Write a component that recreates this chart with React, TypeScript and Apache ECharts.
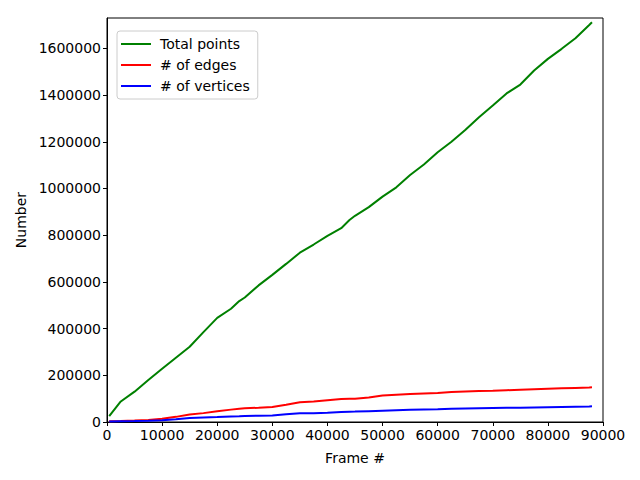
import React, { useEffect, useRef } from "react";
import * as echarts from "echarts";

const frames = [400, 2500, 5000, 7500, 10000, 12500, 15000, 17500, 20000, 22500, 24000, 25000, 27500, 30000, 32500, 35000, 37500, 40000, 42500, 44000, 45000, 47500, 50000, 52500, 55000, 57500, 60000, 62500, 65000, 67500, 70000, 72500, 75000, 77500, 80000, 82500, 85000, 87500, 88000];

const totalPoints = [25000, 88000, 130000, 180000, 228000, 275000, 322000, 385000, 446000, 485000, 518000, 533000, 585000, 630000, 677000, 725000, 760000, 797000, 830000, 865000, 883000, 920000, 965000, 1005000, 1058000, 1103000, 1155000, 1200000, 1250000, 1305000, 1355000, 1407000, 1445000, 1505000, 1555000, 1598000, 1643000, 1700000, 1712000];

const edges = [3000, 4000, 6000, 9000, 14000, 22000, 32000, 38000, 46000, 53000, 57000, 59000, 61000, 64000, 74000, 85000, 88000, 93000, 98000, 99500, 100000, 105000, 113000, 117000, 120000, 122000, 124000, 128000, 131000, 133000, 134000, 136000, 138000, 140000, 142000, 144000, 146000, 148000, 149000];

const vertices = [2000, 3000, 4000, 5500, 8000, 12000, 17000, 19000, 21000, 24000, 25000, 26000, 27000, 28000, 33000, 37000, 38000, 40000, 43000, 44000, 44500, 46500, 48500, 50500, 52500, 54000, 55000, 56500, 57500, 58500, 59500, 60500, 61500, 62500, 63500, 64500, 65500, 66500, 67000];

const seriesNames = ["Total points", "# of edges", "# of vertices"];
const seriesColors = ["#008000", "#ff0000", "#0000ff"];
const seriesValues = [totalPoints, edges, vertices];

const FONT = "DejaVu Sans";
const FS = 14;

export default function App() {
  const ref = useRef<HTMLDivElement>(null);
  useEffect(() => {
    if (!ref.current) return;
    const chart = echarts.init(ref.current, null, { renderer: "svg" });
    chart.setOption({
      animation: false,
      backgroundColor: "#ffffff",
      textStyle: { fontFamily: FONT },
      grid: {
        left: 107,
        right: 37,
        top: 18,
        bottom: 58,
        show: true,
        borderColor: "#000",
        borderWidth: 1,
        backgroundColor: "transparent",
      },
      legend: {
        left: 117,
        top: 31,
        orient: "vertical",
        itemWidth: 30,
        itemHeight: 2,
        itemGap: 7,
        icon: "rect",
        padding: [6, 8, 6, 4],
        borderColor: "#cccccc",
        borderWidth: 1,
        borderRadius: 3,
        backgroundColor: "rgba(255,255,255,0.8)",
        textStyle: { fontFamily: FONT, fontSize: FS, color: "#000", padding: [0, 0, 0, 4] },
        data: seriesNames,
      },
      xAxis: {
        type: "value",
        min: 0,
        max: 90000,
        interval: 10000,
        name: "Frame #",
        nameLocation: "middle",
        nameGap: 29,
        nameTextStyle: { fontFamily: FONT, fontSize: FS, color: "#000" },
        axisLine: { show: true, lineStyle: { color: "#000", width: 1 } },
        axisTick: { show: true, inside: false, length: 4, lineStyle: { color: "#000" } },
        axisLabel: { fontFamily: FONT, fontSize: FS, color: "#000", margin: 6, formatter: (v: number) => String(v) },
        splitLine: { show: false },
      },
      yAxis: {
        type: "value",
        min: 0,
        max: 1730000,
        interval: 200000,
        name: "Number",
        nameLocation: "middle",
        nameGap: 76,
        nameTextStyle: { fontFamily: FONT, fontSize: FS, color: "#000" },
        axisLine: { show: true, lineStyle: { color: "#000", width: 1 } },
        axisTick: { show: true, inside: false, length: 4, lineStyle: { color: "#000" } },
        axisLabel: { fontFamily: FONT, fontSize: FS, color: "#000", margin: 6, showMaxLabel: false, formatter: (v: number) => String(v) },
        splitLine: { show: false },
      },
      series: seriesNames.map((name, i) => ({
        name,
        type: "line",
        showSymbol: false,
        symbol: "none",
        color: seriesColors[i],
        lineStyle: { color: seriesColors[i], width: 2 },
        data: frames.map((f, j) => [f, seriesValues[i][j]]),
      })),
    });
    return () => chart.dispose();
  }, []);
  return (
    <div
      ref={ref}
      style={{ position: "fixed", left: 0, top: 0, width: 640, height: 480, background: "#fff" }}
    />
  );
}
